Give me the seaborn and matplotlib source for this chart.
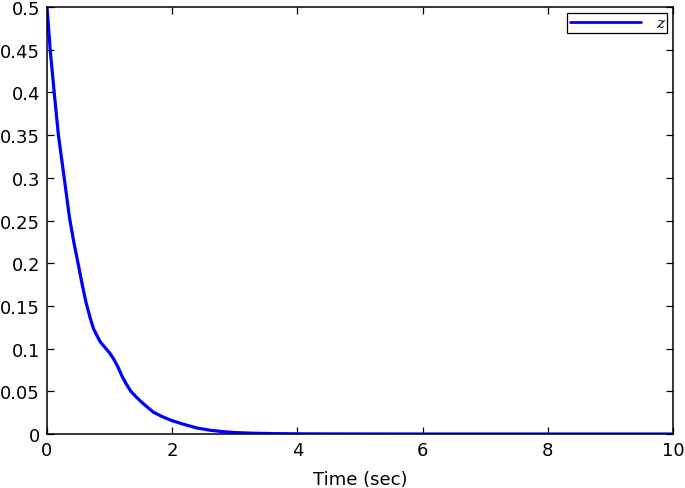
import numpy as np
import pandas as pd
import matplotlib
matplotlib.use('Agg')
import matplotlib.pyplot as plt
import seaborn as sns

# Values
time = [0.0, 0.05, 0.115, 0.184, 0.275, 0.36, 0.43, 0.504, 0.565, 0.627,
        0.69, 0.744, 0.85, 0.93, 1.0, 1.064, 1.13, 1.197, 1.27, 1.34,
        1.43, 1.517, 1.61, 1.704, 1.85, 2.0, 2.2, 2.4, 2.6, 2.8, 3.0,
        3.3, 3.6, 4.0, 5.0, 6.0, 10.0]
z = [0.5, 0.451, 0.4, 0.349, 0.30, 0.253, 0.224, 0.197, 0.174, 0.153,
     0.136, 0.123, 0.108, 0.101, 0.095, 0.088, 0.079, 0.068, 0.058, 0.05,
     0.043, 0.037, 0.031, 0.0254, 0.02, 0.0156, 0.011, 0.007, 0.0045,
     0.0028, 0.0017, 0.0009, 0.0005, 0.0002, 0.00005, 0.0, 0.0]

x_ticks = [0, 2, 4, 6, 8, 10]
y_ticks = [0, 0.05, 0.1, 0.15, 0.2, 0.25, 0.3, 0.35, 0.4, 0.45, 0.5]
y_labels = ['0', '0.05', '0.1', '0.15', '0.2', '0.25', '0.3', '0.35', '0.4', '0.45', '0.5']

df = pd.DataFrame({'Time': time, 'z': z})

sns.set_style('ticks')
plt.rcParams['font.family'] = ['DejaVu Sans']
plt.rcParams['text.color'] = 'black'
plt.rcParams['axes.labelcolor'] = 'black'

fig = plt.figure(figsize=(6.85, 4.89), dpi=100)
ax = fig.add_axes([0.0686, 0.1104, 0.9139, 0.8732])

sns.lineplot(data=df, x='Time', y='z', ax=ax, color='#0000ff',
             linewidth=2.3, label='z')

ax.set_xlim(0, 10)
ax.set_ylim(0, 0.5)
ax.set_xticks(x_ticks)
ax.set_xticklabels([str(t) for t in x_ticks])
ax.set_yticks(y_ticks)
ax.set_yticklabels(y_labels)
ax.tick_params(direction='in', top=True, right=True, labelsize=13,
               length=5, width=0.9, colors='black')
ax.tick_params(axis='x', pad=5)
ax.tick_params(axis='y', pad=5)
for s in ax.spines.values():
    s.set_linewidth(1.1)
    s.set_color('black')
ax.set_xlabel('Time (sec)', fontsize=13, labelpad=8, color='black')
ax.set_ylabel('')

leg = ax.legend(loc='upper right', frameon=True, fancybox=False,
                handlelength=4.6, borderpad=0.2, borderaxespad=0.4,
                handletextpad=1.0,
                prop={'family': 'DejaVu Serif', 'style': 'italic', 'size': 11})
leg.get_frame().set_edgecolor('black')
leg.get_frame().set_linewidth(0.9)
leg.get_frame().set_alpha(1)
for ln in leg.get_lines():
    ln.set_linewidth(2.0)
for t in leg.get_texts():
    t.set_color('black')

plt.savefig('out.png', dpi=100)
plt.close()
